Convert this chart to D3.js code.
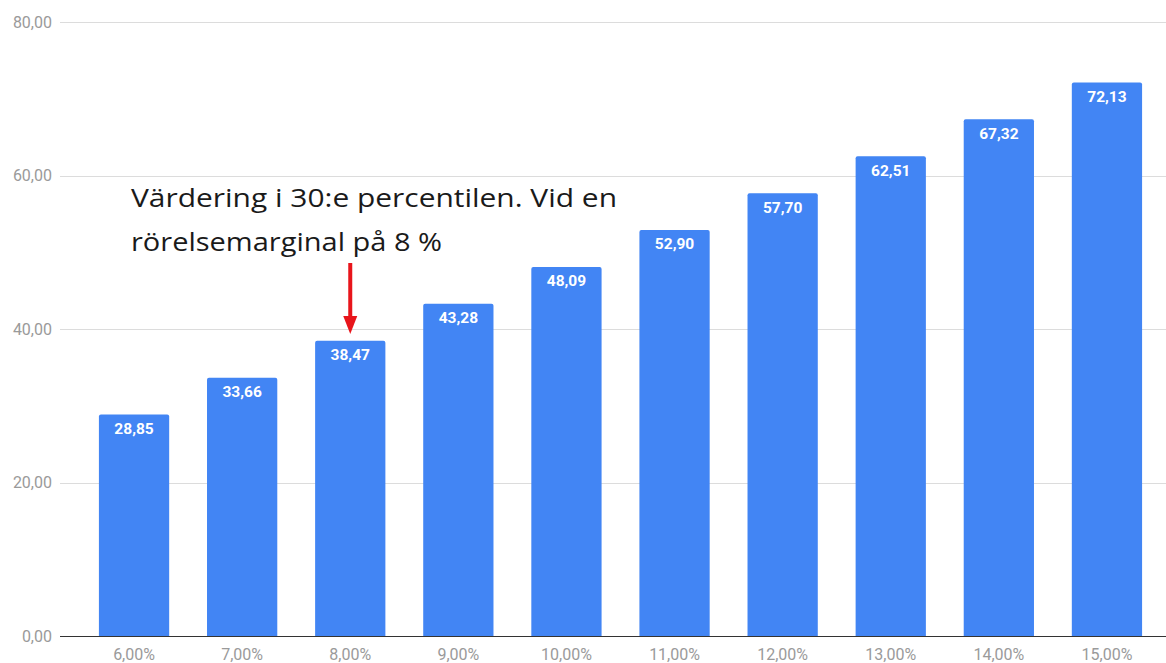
<!DOCTYPE html>
<html>
<head>
<meta charset="utf-8">
<script src="https://cdn.jsdelivr.net/npm/d3@7"></script>
<style>
  html, body { margin: 0; padding: 0; background: #fff; }
  svg { display: block; }
</style>
</head>
<body>
<div id="chart"></div>
<script>
(function () {
  'use strict';

  /* ---------- Data ---------- */
  const categories = ['6,00%', '7,00%', '8,00%', '9,00%', '10,00%', '11,00%', '12,00%', '13,00%', '14,00%', '15,00%'];
  const values = [28.85, 33.66, 38.47, 43.28, 48.09, 52.90, 57.70, 62.51, 67.32, 72.13];
  const yTicks = [0, 20, 40, 60, 80];
  const noteLines = ['Värdering i 30:e percentilen. Vid en', 'rörelsemarginal på 8 %'];
  const noteCategory = '8,00%';

  /* ---------- Size ---------- */
  const W = 1166, H = 663;
  const gridLeft = 60, gridRight = W;
  const y0 = 636, y1 = 22;

  const fmt = v => v.toFixed(2).replace('.', ',');

  const svg = d3.select('#chart').append('svg')
    .attr('width', W).attr('height', H);

  const x = d3.scaleBand()
    .domain(categories)
    .range([80, 1161])
    .paddingInner(0.35)
    .paddingOuter(0.175);

  const y = d3.scaleLinear().domain([0, 80]).range([y0, y1]);

  /* ---------- Grid + y labels ---------- */
  const grid = svg.append('g');
  grid.selectAll('line')
    .data(yTicks.filter(t => t > 0))
    .join('line')
    .attr('x1', gridLeft).attr('x2', gridRight)
    .attr('y1', d => Math.round(y(d)) + 0.5)
    .attr('y2', d => Math.round(y(d)) + 0.5)
    .attr('stroke', '#dcdcdc')
    .attr('stroke-width', 1);

  grid.selectAll('text')
    .data(yTicks)
    .join('text')
    .attr('x', 52)
    .attr('y', d => y(d))
    .attr('dy', '0.35em')
    .attr('text-anchor', 'end')
    .attr('fill', '#9a9a9a')
    .attr('font-family', 'Roboto, sans-serif')
    .attr('font-size', '16px')
    .text(d => fmt(d));

  /* ---------- Bars ---------- */
  const barG = svg.append('g');
  const r = 2;
  barG.selectAll('path')
    .data(values)
    .join('path')
    .attr('fill', '#4285f4')
    .attr('d', (d, i) => {
      const bx = x(categories[i]), bw = x.bandwidth();
      const top = y(d), bot = y(0);
      return `M${bx},${bot}V${top + r}Q${bx},${top} ${bx + r},${top}H${bx + bw - r}Q${bx + bw},${top} ${bx + bw},${top + r}V${bot}Z`;
    });

  barG.selectAll('text')
    .data(values)
    .join('text')
    .attr('x', (d, i) => x(categories[i]) + x.bandwidth() / 2)
    .attr('y', d => y(d) + 19.5)
    .attr('text-anchor', 'middle')
    .attr('fill', '#fff')
    .attr('font-family', 'Roboto, sans-serif')
    .attr('font-weight', 700)
    .attr('font-size', '15.5px')
    .text(d => fmt(d));

  /* ---------- Baseline ---------- */
  svg.append('line')
    .attr('x1', gridLeft).attr('x2', gridRight)
    .attr('y1', y(0) + 0.5).attr('y2', y(0) + 0.5)
    .attr('stroke', '#333')
    .attr('stroke-width', 1);

  /* ---------- X labels ---------- */
  svg.append('g').selectAll('text')
    .data(categories)
    .join('text')
    .attr('x', d => x(d) + x.bandwidth() / 2)
    .attr('y', 660)
    .attr('text-anchor', 'middle')
    .attr('fill', '#9a9a9a')
    .attr('font-family', 'Roboto, sans-serif')
    .attr('font-size', '16px')
    .text(d => d);

  /* ---------- Annotation ---------- */
  const note = svg.append('g');
  note.selectAll('text')
    .data(noteLines)
    .join('text')
    .attr('x', 131)
    .attr('y', (d, i) => 207 + i * 44)
    .attr('fill', '#1a1a1a')
    .attr('font-family', "'Open Sans', 'Noto Sans', sans-serif")
    .attr('font-size', '26px')
    .attr('textLength', (d, i) => i === 0 ? 486 : 311)
    .attr('lengthAdjust', 'spacingAndGlyphs')
    .text(d => d);

  const ax = x(noteCategory) + x.bandwidth() / 2;
  note.append('line')
    .attr('x1', ax).attr('x2', ax)
    .attr('y1', 263).attr('y2', 318)
    .attr('stroke', '#e8151b')
    .attr('stroke-width', 4);
  note.append('path')
    .attr('d', `M${ax - 7},316L${ax + 7},316L${ax},334Z`)
    .attr('fill', '#e8151b');
})();
</script>
</body>
</html>
